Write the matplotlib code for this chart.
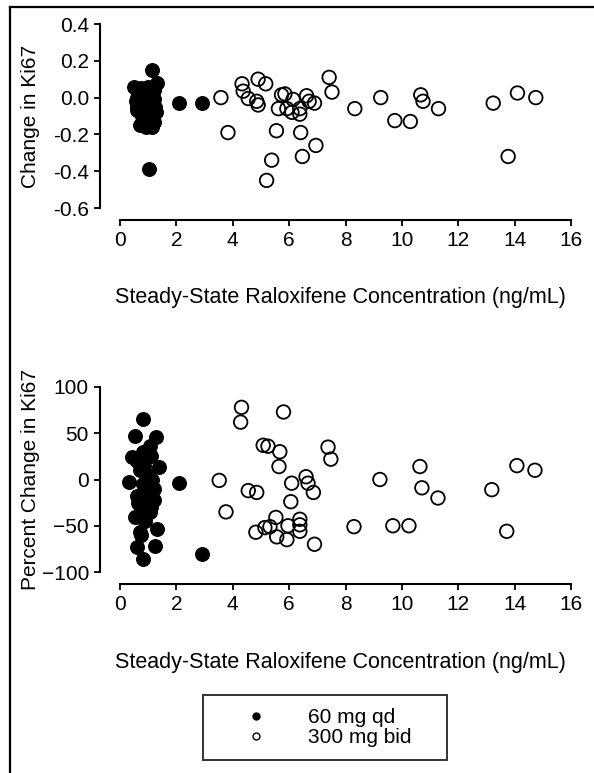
import matplotlib
matplotlib.use("Agg")
import matplotlib.pyplot as plt
from matplotlib.lines import Line2D

plt.rcParams['font.family'] = ['Liberation Sans', 'DejaVu Sans']

# change in Ki67, 60 mg qd (filled)
qd_conc = [0.5, 0.55, 0.6, 0.62, 0.65, 0.7, 0.7, 0.75, 0.78, 0.8, 0.82, 0.85, 0.88, 0.9,
           0.9, 0.92, 0.95, 0.98, 1.0, 1.0, 1.02, 1.05, 1.08, 1.1, 1.12, 1.15, 1.18, 1.2,
           1.22, 1.25, 1.28, 1.3, 1.13, 1.03, 2.09, 2.9, 0.6, 0.85, 1.2, 0.95]
qd_change = [0.06, -0.02, 0.0, -0.05, 0.03, -0.15, -0.08, 0.05, -0.1, 0.02, -0.03, -0.12,
             0.04, -0.06, 0.01, -0.16, -0.02, 0.06, -0.09, 0.03, -0.04, -0.13, 0.0, -0.07,
             0.05, -0.16, -0.1, -0.01, 0.04, -0.05, -0.08, 0.08, 0.15, -0.39, -0.03, -0.03,
             -0.07, -0.14, -0.13, 0.02]

# change in Ki67, 300 mg bid (open)
bid_conc = [3.58, 3.83, 4.33, 4.37, 4.55, 4.85, 4.9, 5.17, 4.9, 5.38, 5.2, 5.55, 5.62, 5.73,
            5.85, 6.14, 5.92, 6.1, 6.38, 6.38, 6.41, 6.47, 6.62, 6.71, 6.9, 6.95, 7.42, 7.52,
            8.33, 9.25, 9.75, 10.3, 10.67, 10.75, 11.3, 13.24, 13.77, 14.1, 14.75]
bid_change = [0.0, -0.19, 0.075, 0.035, -0.005, -0.02, 0.1, 0.075, -0.04, -0.34, -0.45, -0.18,
              -0.06, 0.015, 0.02, -0.01, -0.06, -0.08, -0.09, -0.06, -0.19, -0.32, 0.01, -0.02,
              -0.03, -0.26, 0.11, 0.03, -0.06, 0.0, -0.125, -0.13, 0.015, -0.02, -0.06, -0.03,
              -0.32, 0.025, 0.0]

# percent change in Ki67, 60 mg qd (filled)
qd_conc_pct = [0.82, 0.53, 1.28, 1.06, 0.42, 1.4, 0.33, 2.09, 0.53, 1.3, 0.7, 0.6, 1.24, 0.82,
               2.9, 0.6, 0.7, 0.8, 0.9, 1.0, 1.1, 1.2, 0.65, 0.75, 0.85, 0.95, 1.05, 1.15, 0.7,
               0.9, 1.1, 0.8, 1.0, 0.6, 1.2, 0.75, 0.95, 1.15, 0.85]
qd_pct = [65, 47, 46, 36, 24, 14, -3, -4, -40, -54, -57, -73, -72, -86, -81, 20, 10, -5, -15,
          5, 25, -10, -25, -30, 15, -20, -35, 0, -40, -45, -30, 30, -8, -18, -22, -60, 5, -12, -42]

# percent change in Ki67, 300 mg bid (open)
bid_conc_pct = [3.52, 3.76, 4.31, 4.28, 4.55, 4.85, 4.82, 5.08, 5.25, 5.67, 5.64, 5.8, 6.09,
                6.06, 5.14, 5.32, 5.53, 5.56, 5.92, 5.96, 6.38, 6.38, 6.38, 6.6, 6.67, 6.86,
                6.9, 7.38, 7.48, 8.3, 9.22, 9.68, 10.25, 10.64, 10.71, 11.28, 13.19, 13.72,
                14.08, 14.72]
bid_pct = [-1, -35, 78, 62, -12, -14, -57, 37, 36, 30, 14, 73, -4, -24, -52, -51, -41, -62,
           -65, -50, -43, -49, -56, 3, -4, -14, -70, 35, 22, -51, 0, -50, -50, 14, -9, -20,
           -11, -56, 15, 10]

xticks = [0, 2, 4, 6, 8, 10, 12, 14, 16]
xlabel = 'Steady-State Raloxifene Concentration (ng/mL)'

fig = plt.figure(figsize=(5.94, 7.73), dpi=100)
W, H = 594, 773


def style_axes(ax):
    for s in ['top', 'right']:
        ax.spines[s].set_visible(False)
    ax.spines['left'].set_position(('outward', 14.4))
    ax.spines['bottom'].set_position(('outward', 8.6))
    ax.spines['left'].set_linewidth(1.5)
    ax.spines['bottom'].set_linewidth(1.5)
    ax.tick_params(direction='out', length=4, width=1.3, labelsize=15, pad=4)
    ax.set_xlim(0, 16)
    ax.set_xticks(xticks)
    ax.set_xlabel(xlabel, fontsize=15.5)
    ax.xaxis.set_label_coords(0.488, -0.43)
    ax.xaxis.label.set_va('top')


ax1 = fig.add_axes([120 / W, 1 - 208 / H, 451 / W, 184 / H])
ax1.scatter(qd_conc, qd_change, s=95, c='black', edgecolors='black', linewidths=1, zorder=3)
ax1.scatter(bid_conc, bid_change, s=95, facecolors='none', edgecolors='black', linewidths=1.3, zorder=3)
ax1.set_ylim(-0.6, 0.4)
ax1.set_yticks([-0.6, -0.4, -0.2, 0.0, 0.2, 0.4])
ax1.set_yticklabels(['-0.6', '-0.4', '-0.2', '0.0', '0.2', '0.4'])
ax1.set_ylabel('Change in Ki67', fontsize=15)
style_axes(ax1)
ax1.yaxis.set_label_coords(-0.177, 0.5)

ax2 = fig.add_axes([120 / W, 1 - 572 / H, 451 / W, 185 / H])
ax2.scatter(qd_conc_pct, qd_pct, s=95, c='black', edgecolors='black', linewidths=1, zorder=3)
ax2.scatter(bid_conc_pct, bid_pct, s=95, facecolors='none', edgecolors='black', linewidths=1.3, zorder=3)
ax2.set_ylim(-100, 100)
ax2.set_yticks([-100, -50, 0, 50, 100])
ax2.set_ylabel('Percent Change in Ki67', fontsize=15)
style_axes(ax2)
ax2.yaxis.set_label_coords(-0.177, 0.5)

# legend
handles = [Line2D([], [], ls='none', marker='o', markersize=5, color='black'),
           Line2D([], [], ls='none', marker='o', markersize=5, markerfacecolor='white',
                  markeredgecolor='black', markeredgewidth=1)]
leg = fig.legend(handles, ['60 mg qd', '300 mg bid'], loc='center', mode='expand',
                 bbox_to_anchor=(203 / W, 1 - 763 / H, 244 / W, 71 / H), fontsize=15,
                 frameon=True, fancybox=False, handlelength=3.9, handletextpad=0.55,
                 labelspacing=0.05, borderpad=0.6, borderaxespad=0)
leg.get_frame().set_edgecolor('black')
leg.get_frame().set_linewidth(1.4)

# frame around the figure (left and top edges visible)
fig.add_artist(Line2D([10 / W, 10 / W], [0, 1 - 7 / H], color='black', lw=1.6))
fig.add_artist(Line2D([10 / W, 1], [1 - 7 / H, 1 - 7 / H], color='black', lw=1.6))

fig.savefig('out.png', dpi=100)
